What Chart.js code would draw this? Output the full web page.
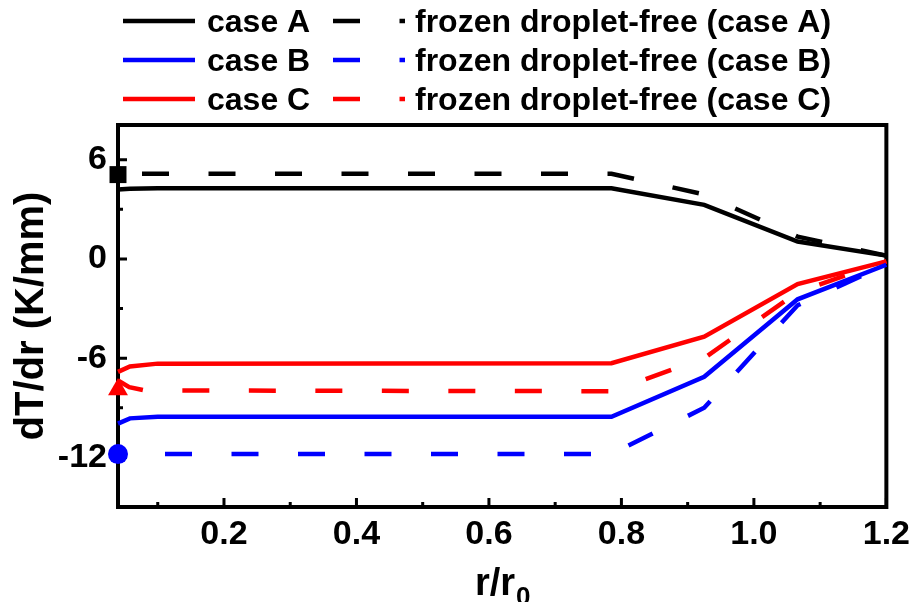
<!DOCTYPE html>
<html>
<head>
<meta charset="utf-8">
<script src="https://cdn.jsdelivr.net/npm/chart.js@4.4.1/dist/chart.umd.min.js"></script>
<style>
  html, body { margin: 0; padding: 0; background: #fff; }
</style>
</head>
<body>
<canvas id="gradChart" width="917" height="602"></canvas>
<script>
// r/r0 positions of the computed points
const rCase = [0.04, 0.058, 0.1, 0.785, 0.925, 1.066, 1.2];
const rFrozen = [0.04, 0.785, 0.925, 1.066, 1.2];
const rFrozenC = [0.04, 0.057, 0.08, 0.785, 0.925, 1.066, 1.2];

// dT/dr (K/mm)
const caseA = [4.2, 4.25, 4.28, 4.28, 3.27, 1.05, 0.2];
const caseB = [-9.96, -9.64, -9.55, -9.55, -7.13, -2.44, -0.35];
const caseC = [-6.83, -6.5, -6.33, -6.3, -4.7, -1.52, -0.15];
const frozenA = [5.15, 5.15, 3.9, 1.35, 0.2];
const frozenB = [-11.8, -11.8, -9.0, -2.8, -0.35];
const frozenC = [-7.35, -7.75, -7.95, -8.0, -6.0, -2.0, -0.15];

// symbols at the droplet centre
const startR = 0.04;
const startA = 5.1, startB = -11.8, startC = -7.9;

const xTicks = [0.2, 0.4, 0.6, 0.8, 1.0, 1.2];
const xMinor = [0.1, 0.3, 0.5, 0.7, 0.9, 1.1];
const yTicks = [6, 0, -6, -12];
const yMinor = [3, -3, -9];

const FONT = '"Liberation Sans", Arial, sans-serif';
const dash = [27, 39.5];
const LW = 4.5;

function pts(xs, ys) {
    return xs.map((x, i) => ({ x: x, y: ys[i] }));
}

function series(label, xs, ys, color, dashed, offset) {
    return {
        label: label,
        data: pts(xs, ys),
        borderColor: color,
        backgroundColor: color,
        borderWidth: LW,
        borderDash: dashed ? dash : [],
        borderDashOffset: offset || 0,
        pointRadius: 0,
        tension: 0,
        fill: false,
        clip: false
    };
}

function marker(x, y, color, style, radius) {
    return {
        label: '',
        data: [{ x: x, y: y }],
        showLine: false,
        pointStyle: style,
        pointRadius: radius,
        pointHoverRadius: radius,
        pointBackgroundColor: color,
        pointBorderColor: color,
        pointBorderWidth: 0,
        clip: false
    };
}

// legend rows: [label, colour, dashed]
const legendItems = [
    ['case A', '#000000', false], ['frozen droplet-free (case A)', '#000000', true],
    ['case B', '#0000ff', false], ['frozen droplet-free (case B)', '#0000ff', true],
    ['case C', '#ff0000', false], ['frozen droplet-free (case C)', '#ff0000', true]
];

const framePlugin = {
    id: 'frame',
    beforeDatasetsDraw(chart) {
        const { ctx, chartArea: a, scales } = chart;
        const x = scales.x, y = scales.y;
        ctx.save();
        ctx.strokeStyle = '#000';
        ctx.lineWidth = 3;
        ctx.beginPath();
        xTicks.forEach(v => { const p = x.getPixelForValue(v); ctx.moveTo(p, a.bottom); ctx.lineTo(p, a.bottom - 9); });
        xMinor.forEach(v => { const p = x.getPixelForValue(v); ctx.moveTo(p, a.bottom); ctx.lineTo(p, a.bottom - 5); });
        yTicks.forEach(v => { const p = y.getPixelForValue(v); ctx.moveTo(a.left, p); ctx.lineTo(a.left + 9, p); });
        yMinor.forEach(v => { const p = y.getPixelForValue(v); ctx.moveTo(a.left, p); ctx.lineTo(a.left + 5, p); });
        ctx.stroke();
        ctx.lineWidth = 4;
        ctx.strokeRect(a.left, a.top, a.right - a.left, a.bottom - a.top);
        ctx.restore();
    },
    afterDraw(chart) {
        const { ctx, chartArea: a } = chart;
        ctx.save();

        // legend, two columns
        const rows = [21, 60, 99];
        ctx.font = 'bold 32px ' + FONT;
        ctx.textBaseline = 'middle';
        ctx.fillStyle = '#000';
        legendItems.forEach((item, i) => {
            const row = rows[Math.floor(i / 2)];
            const dashed = item[2];
            const x0 = dashed ? 333 : 123;
            const x1 = dashed ? 405 : 195;
            ctx.strokeStyle = item[1];
            ctx.lineWidth = LW;
            ctx.setLineDash(dashed ? dash : []);
            ctx.beginPath();
            ctx.moveTo(x0, row);
            ctx.lineTo(x1, row);
            ctx.stroke();
            ctx.setLineDash([]);
            ctx.fillText(item[0], dashed ? 415 : 207, row + 2);
        });

        // x axis title r/r0
        const main = 'r/r', sub = '0';
        ctx.font = 'bold 38px ' + FONT;
        const wMain = ctx.measureText(main).width;
        ctx.font = 'bold 26px ' + FONT;
        const wSub = ctx.measureText(sub).width;
        const left = (a.left + a.right) / 2 - (wMain + wSub) / 2;
        ctx.textBaseline = 'alphabetic';
        ctx.font = 'bold 38px ' + FONT;
        ctx.fillText(main, left, 595);
        ctx.font = 'bold 26px ' + FONT;
        ctx.fillText(sub, left + wMain + 1, 605);
        ctx.restore();
    }
};

new Chart(document.getElementById('gradChart'), {
    type: 'line',
    data: {
        datasets: [
            series('case A', rCase, caseA, '#000000', false),
            series('frozen droplet-free (case A)', rFrozen, frozenA, '#000000', true, 42.5),
            series('case B', rCase, caseB, '#0000ff', false),
            series('frozen droplet-free (case B)', rFrozen, frozenB, '#0000ff', true, 19.5),
            series('case C', rCase, caseC, '#ff0000', false),
            series('frozen droplet-free (case C)', rFrozenC, frozenC, '#ff0000', true, 0),
            marker(startR, startA, '#000000', 'rect', 12),
            marker(startR, startB, '#0000ff', 'circle', 10),
            marker(startR, startC, '#ff0000', 'triangle', 11.5)
        ]
    },
    options: {
        responsive: false,
        animation: false,
        events: [],
        layout: { padding: { top: 125, right: 28, bottom: 0, left: 0 } },
        plugins: { legend: { display: false }, tooltip: { enabled: false } },
        scales: {
            x: {
                type: 'linear',
                min: 0.04,
                max: 1.2,
                grid: { display: false, drawTicks: false },
                border: { display: false },
                afterBuildTicks: s => { s.ticks = xTicks.map(v => ({ value: v })); },
                afterFit: s => { s.height = 95; },
                ticks: {
                    padding: 7,
                    color: '#000',
                    maxRotation: 0,
                    font: { family: FONT, size: 34, weight: 'bold' },
                    callback: v => v.toFixed(1)
                }
            },
            y: {
                type: 'linear',
                min: -15,
                max: 8.1,
                grid: { display: false, drawTicks: false },
                border: { display: false },
                afterBuildTicks: s => { s.ticks = yTicks.map(v => ({ value: v })); },
                afterFit: s => { s.width = 118; },
                ticks: {
                    padding: 11,
                    color: '#000',
                    font: { family: FONT, size: 34, weight: 'bold' },
                    callback: v => String(v)
                },
                title: {
                    display: true,
                    text: 'dT/dr (K/mm)',
                    color: '#000',
                    padding: { top: 8, bottom: 0 },
                    font: { family: FONT, size: 40, weight: 'bold' }
                }
            }
        }
    },
    plugins: [framePlugin]
});
</script>
</body>
</html>
